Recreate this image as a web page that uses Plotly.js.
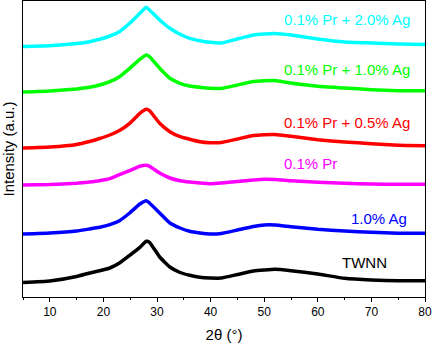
<!DOCTYPE html>
<html><head>
<meta charset="utf-8">
<script src="https://cdn.plot.ly/plotly-3.0.1.min.js"></script>
<style>
body { margin: 0; background: white; }
#xrd { width: 432px; height: 345px; }
</style>
</head>
<body>
<div id="xrd"></div>
<script>
// 2theta positions (deg)
const twoTheta = [5, 10, 15, 17.4, 19.3, 21.2, 23, 24.9, 26.8, 28, 28.6, 30.5, 32.4, 34.3, 36.1, 38, 39.9, 42, 45, 48, 50, 52, 55, 60, 65, 70, 75, 80];

// stacked intensities (a.u., offset already included)
const prAg20 = [250.5, 251.2, 253.5, 255.3, 257.7, 261, 265.3, 273.7, 283.7, 289.7, 287, 277, 268.7, 262.7, 258.7, 256.3, 254.7, 254, 258, 262, 263, 263.5, 262, 258, 255, 254, 253, 252.5];
const prAg10 = [205, 206, 208, 209.7, 212, 215.3, 220.3, 228.7, 237.7, 242, 240.3, 228.7, 218.7, 213.7, 211, 209.7, 208.7, 208.5, 212, 215.5, 216.3, 216.5, 214, 210.7, 209, 207.3, 206.3, 206.3];
const prAg05 = [149, 150, 152.5, 155.5, 158.5, 162, 166.5, 173.7, 183.7, 187.7, 186.3, 173.7, 165.3, 160.3, 157.7, 155.3, 154.3, 154.5, 158, 161.5, 162.3, 162.5, 160.7, 157.3, 155, 153.3, 151.7, 151.3];
const pr01 = [112, 112.5, 113.7, 115, 116.3, 118.3, 122.3, 126.3, 130.7, 131.7, 130.7, 124, 119, 116.3, 115, 114, 113.3, 114, 115.5, 117, 117.7, 117.5, 116.3, 114.7, 113.7, 113, 112.7, 112.7];
const ag10 = [63, 64, 66, 68, 69.7, 72.3, 76.3, 84, 93, 96.3, 94, 84, 74, 69, 65.7, 64, 63, 63.5, 67, 70.5, 72, 72, 70.3, 67.7, 66, 64.7, 63.7, 63.7];
const twnn = [14.5, 16, 20.5, 24, 26.3, 29, 34, 41.7, 49.7, 55.7, 54.7, 40, 30, 24.5, 21.7, 19.7, 19, 19, 22.5, 26, 27, 27.7, 26.3, 23, 18.7, 17, 16.3, 16.3];

const names = ['TWNN', '1.0% Ag', '0.1% Pr', '0.1% Pr + 0.5% Ag', '0.1% Pr + 1.0% Ag', '0.1% Pr + 2.0% Ag'];
const colors = ['#000000', '#0000ff', '#ff00ff', '#ff0000', '#00ff00', '#00ffff'];
const series = [twnn, ag10, pr01, prAg05, prAg10, prAg20];

// label anchors
const labelX = [68.7, 77, 53.3, 53.3, 53.3, 53.3];
const labelY = [35, 79, 134, 174.3, 228, 278];
const labelAnchor = ['center', 'right', 'left', 'left', 'left', 'left'];

const traces = series.map((s, i) => ({
  x: twoTheta,
  y: s,
  name: names[i],
  type: 'scatter',
  mode: 'lines',
  line: {color: colors[i], width: 3.5, shape: 'spline', smoothing: 0.4}
}));

const annotations = names.map((n, i) => ({
  x: labelX[i], y: labelY[i], xref: 'x', yref: 'y',
  text: n, showarrow: false, xanchor: labelAnchor[i],
  font: {family: 'Liberation Sans, Arial, sans-serif', size: 15, color: colors[i]}
}));

const layout = {
  width: 432, height: 345,
  margin: {l: 23, r: 7, t: 1, b: 48},
  paper_bgcolor: 'white', plot_bgcolor: 'white',
  showlegend: false,
  font: {family: 'Liberation Sans, Arial, sans-serif', color: '#000'},
  xaxis: {
    range: [5, 80], dtick: 10, tick0: 0,
    ticks: 'outside', ticklen: 4, tickwidth: 1, tickcolor: '#000',
    minor: {dtick: 5, ticks: 'outside', ticklen: 2, tickcolor: '#000'},
    showline: true, linecolor: '#000', linewidth: 1, mirror: true,
    showgrid: false, zeroline: false,
    tickfont: {size: 12},
    title: {text: '2θ (°)', font: {size: 15}, standoff: 11}
  },
  yaxis: {
    range: [0, 296],
    showticklabels: false, ticks: '',
    showline: true, linecolor: '#000', linewidth: 1, mirror: true,
    showgrid: false, zeroline: false,
    title: {text: 'Intensity (a.u.)', font: {size: 15}, standoff: 4}
  },
  annotations: annotations
};

Plotly.newPlot('xrd', traces, layout, {displayModeBar: false, staticPlot: true});
</script>
</body></html>
